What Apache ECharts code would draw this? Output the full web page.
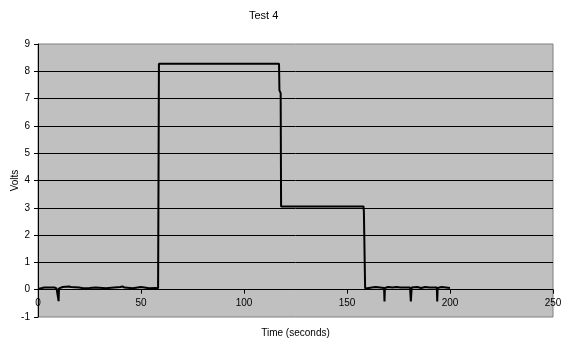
<!DOCTYPE html>
<html><head><meta charset="utf-8">
<script src="https://cdn.jsdelivr.net/npm/echarts@6/dist/echarts.min.js"></script>
<style>html,body{margin:0;padding:0;background:#fff}#c{width:569px;height:345px}</style>
</head><body><div id="c"></div>
<script>
var title = "Test 4";
var xName = "Time (seconds)";
var yName = "Volts";
var xTicks = [0, 50, 100, 150, 200, 250];
var yTicks = [-1, 0, 1, 2, 3, 4, 5, 6, 7, 8, 9];
// time (s)
var times = [
  0, 2, 3, 8, 9, 9.8, 10, 10.2, 12, 15, 16, 20, 22, 25, 28, 33, 37, 40, 41, 42, 46, 50, 54, 57, 58.3,
  58.5, 58.7, 75, 90, 90.2, 90.4, 110, 110.2, 110.4, 117, 117.2, 117.8, 118,
  120, 120.3, 121.5, 121.8, 123, 123.3, 124.5, 124.8, 126, 126.3, 127.5, 127.8, 129, 129.3, 130.5, 130.8,
  132, 132.3, 133.5, 133.8, 135, 135.3, 136.5, 136.8, 138, 138.3, 139.5, 139.8, 141, 141.3, 142.5, 142.8,
  144, 144.3, 145.5, 145.8, 147, 147.3, 148.5, 148.8, 150, 150.3, 151.5, 151.8, 153, 153.3, 154.5, 154.8,
  156, 156.3, 158, 158.2, 158.6, 158.8,
  160, 162, 164, 166, 168, 168.2, 168.4, 170, 172, 174, 176, 180.6, 181, 181.4, 184, 186, 188, 190, 193.6, 193.8, 194, 196, 198, 200
];
// volts
var volts = [
  0.03, 0.06, 0.08, 0.08, 0.05, 0.05, -0.42, 0.05, 0.1, 0.12, 0.1, 0.08, 0.05, 0.06, 0.08, 0.05, 0.08, 0.1, 0.12, 0.08, 0.05, 0.1, 0.05, 0.06, 0.05,
  4.0, 8.28, 8.28, 8.28, 8.33, 8.28, 8.28, 8.33, 8.28, 8.28, 7.3, 7.2, 3.05,
  3.05, 3.1, 3.05, 3.1, 3.05, 3.1, 3.05, 3.1, 3.05, 3.1, 3.05, 3.1, 3.05, 3.1, 3.05, 3.1,
  3.05, 3.1, 3.05, 3.1, 3.05, 3.1, 3.05, 3.1, 3.05, 3.1, 3.05, 3.1, 3.05, 3.1, 3.05, 3.1,
  3.05, 3.1, 3.05, 3.1, 3.05, 3.1, 3.05, 3.1, 3.05, 3.1, 3.05, 3.1, 3.05, 3.1, 3.05, 3.1,
  3.05, 3.1, 3.05, 2.85, 2.85, 0.05,
  0.05, 0.08, 0.1, 0.08, 0.06, -0.43, 0.06, 0.1, 0.08, 0.1, 0.08, 0.08, -0.43, 0.08, 0.1, 0.06, 0.1, 0.08, 0.08, -0.43, 0.06, 0.1, 0.08, 0.06
];
var pts = times.map(function (t, i) { return [t, volts[i]]; });
var chart = echarts.init(document.getElementById('c'), null, {renderer: 'canvas'});
var font = 'Liberation Sans, Arial, sans-serif';
var plotH = 345 - 44 - 28;
var zeroOffset = -plotH * (0 - yTicks[0]) / (yTicks[yTicks.length - 1] - yTicks[0]);
chart.setOption({
  animation: false,
  backgroundColor: '#ffffff',
  title: {text: title, left: 244, top: 5, textStyle: {fontSize: 11, fontWeight: 'normal', color: '#000', fontFamily: font}},
  grid: {left: 38, right: 16, top: 44, bottom: 28, containLabel: false, outerBoundsMode: 'none', show: true, backgroundColor: '#c0c0c0', borderColor: '#808080', borderWidth: 1},
  xAxis: {
    type: 'value', min: xTicks[0], max: xTicks[xTicks.length - 1], interval: 50,
    position: 'bottom', offset: zeroOffset,
    name: xName, nameLocation: 'middle', nameGap: 39, nameMoveOverlap: false,
    nameTextStyle: {fontSize: 10, color: '#000', fontFamily: font},
    axisLine: {show: true, onZero: false, lineStyle: {color: '#000', width: 1}},
    axisTick: {show: true, inside: false, length: 4, lineStyle: {color: '#000'}},
    axisLabel: {fontSize: 10, color: '#000', fontFamily: font, margin: 9, showMaxLabel: true, showMinLabel: true},
    splitLine: {show: false}
  },
  yAxis: {
    type: 'value', min: yTicks[0], max: yTicks[yTicks.length - 1], interval: 1,
    name: yName, nameLocation: 'middle', nameGap: 18, nameRotate: 90, nameMoveOverlap: false,
    nameTextStyle: {fontSize: 10, color: '#000', fontFamily: font},
    axisLine: {show: true, onZero: false, lineStyle: {color: '#000', width: 1}},
    axisTick: {show: true, length: 4, lineStyle: {color: '#000'}},
    axisLabel: {fontSize: 10, color: '#000', fontFamily: font, margin: 8},
    splitLine: {show: true, showMinLine: false, showMaxLine: false, lineStyle: {color: '#000', width: 1}}
  },
  series: [{
    type: 'line', data: pts, showSymbol: false, symbol: 'none',
    lineStyle: {color: '#000', width: 2}, clip: true
  }]
});
</script></body></html>
